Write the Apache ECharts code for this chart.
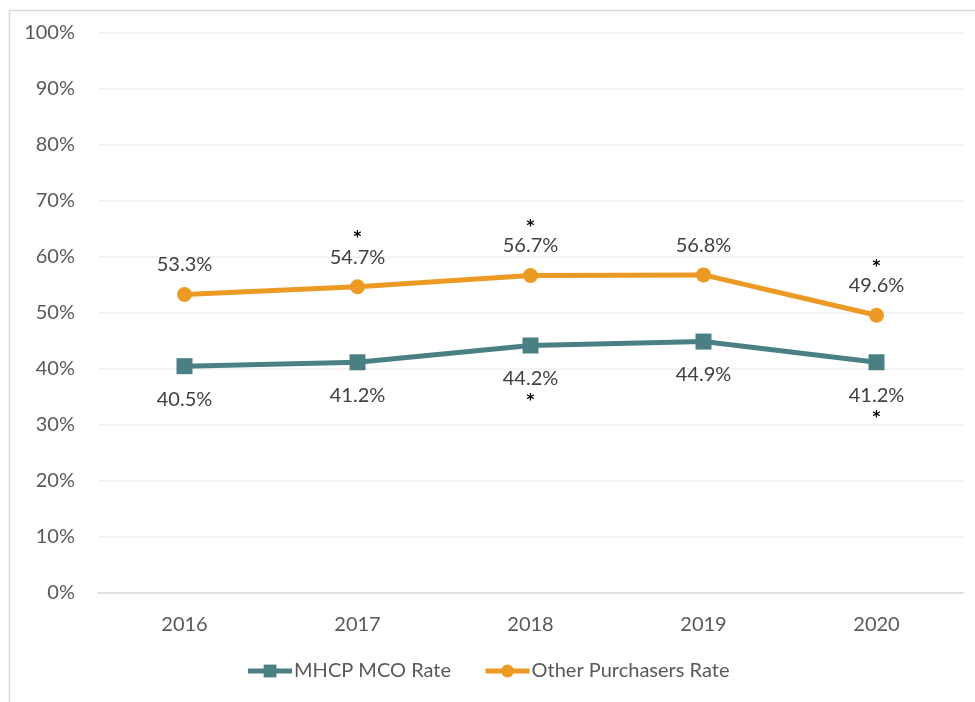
<!DOCTYPE html>
<html>
<head>
<meta charset="utf-8">
<script src="https://cdn.jsdelivr.net/npm/echarts@6/dist/echarts.min.js"></script>
<style>html,body{margin:0;padding:0;background:#fff;}#c{width:975px;height:702px;}</style>
</head>
<body>
<div id="c"></div>
<script>
var categories = ['2016', '2017', '2018', '2019', '2020'];
var mhcpRate = [40.5, 41.2, 44.2, 44.9, 41.2];
var otherRate = [53.3, 54.7, 56.7, 56.8, 49.6];
var mhcpFlag = [false, false, true, false, true];
var otherFlag = [false, true, true, false, true];
var yTicks = [0, 10, 20, 30, 40, 50, 60, 70, 80, 90, 100];

var FONT = 'Lato';
var FS = 20;
var chart = echarts.init(document.getElementById('c'));
var richTop = {
  v: { fontFamily: FONT, fontSize: FS, color: '#404040', lineHeight: 24 },
  s: { fontFamily: 'DejaVu Sans', fontSize: 15, fontWeight: 'bold', color: '#000', lineHeight: 14 }
};
var richBottom = {
  v: { fontFamily: FONT, fontSize: FS, color: '#404040', lineHeight: 24 },
  s: { fontFamily: 'DejaVu Sans', fontSize: 15, fontWeight: 'bold', color: '#000', lineHeight: 22 }
};
chart.setOption({
  backgroundColor: '#fff',
  animation: false,
  graphic: [{
    type: 'rect', left: 7, top: 8,
    shape: { width: 1200, height: 1200 },
    style: { fill: 'none', stroke: '#d9d9d9', lineWidth: 1.5 },
    silent: true
  }],
  grid: { left: 98, right: 12, top: 33, bottom: 109, containLabel: false },
  legend: {
    bottom: 16, left: 'center',
    itemWidth: 44, itemHeight: 16, itemGap: 32,
    lineStyle: { width: 5 },
    textStyle: { fontFamily: FONT, fontSize: FS, color: '#595959', padding: [0, 0, 0, -3] },
    data: ['MHCP MCO Rate', 'Other Purchasers Rate']
  },
  xAxis: {
    type: 'category', data: categories,
    axisLine: { lineStyle: { color: '#d9d9d9', width: 1.5 } },
    axisTick: { show: false },
    axisLabel: { fontFamily: FONT, fontSize: FS, color: '#595959', margin: 22 }
  },
  yAxis: {
    type: 'value', min: 0, max: 100, interval: 10,
    axisLine: { show: false }, axisTick: { show: false },
    splitLine: { lineStyle: { color: '#efefef', width: 1.5 } },
    axisLabel: { fontFamily: FONT, fontSize: FS, color: '#595959', margin: 23,
      formatter: function (v) { return yTicks.indexOf(v) >= 0 ? v + '%' : ''; } }
  },
  series: [{
    name: 'MHCP MCO Rate', type: 'line', data: mhcpRate,
    symbol: 'rect', symbolSize: 16,
    lineStyle: { color: '#4a8084', width: 5 },
    itemStyle: { color: '#4a8084' },
    label: {
      show: true, position: 'bottom', distance: 13,
      formatter: function (p) {
        var t = '{v|' + p.value.toFixed(1) + '%}';
        return mhcpFlag[p.dataIndex] ? t + '\n{s|*}' : t;
      },
      rich: richBottom
    }
  }, {
    name: 'Other Purchasers Rate', type: 'line', data: otherRate,
    symbol: 'circle', symbolSize: 15,
    lineStyle: { color: '#ec9a23', width: 5 },
    itemStyle: { color: '#ec9a23' },
    label: {
      show: true, position: 'top', distance: 10,
      formatter: function (p) {
        var t = '{v|' + p.value.toFixed(1) + '%}';
        return otherFlag[p.dataIndex] ? '{s|*}\n' + t : t;
      },
      rich: richTop
    }
  }]
});
</script>
</body>
</html>
